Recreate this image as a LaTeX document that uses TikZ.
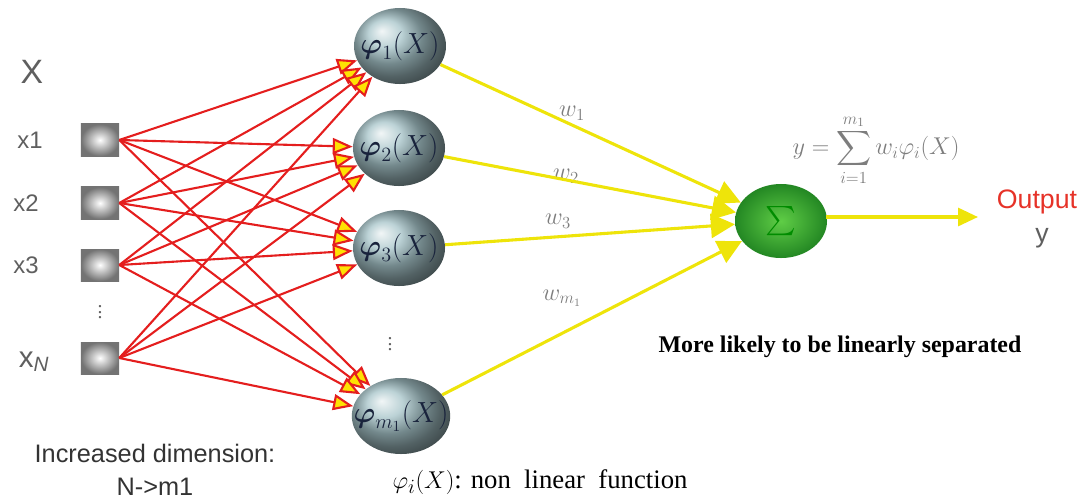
\documentclass[tikz,border=0pt]{standalone}
\usepackage{amsmath}
\usepackage{fontspec}
\setmainfont{Liberation Serif}
\setsansfont{Liberation Sans}
\usepackage{tikz}
\usetikzlibrary{arrows.meta, positioning, shapes.geometric}

\definecolor{hidgray}{RGB}{165,195,200}
\definecolor{suminner}{RGB}{95,205,70}
\definecolor{sumouter}{RGB}{35,135,35}
\definecolor{linkred}{RGB}{228,30,30}
\definecolor{linkyellow}{RGB}{238,228,10}
\definecolor{labelgray}{RGB}{95,95,95}
\definecolor{formgray}{RGB}{125,125,125}
\definecolor{outred}{RGB}{230,50,40}
\definecolor{phinavy}{RGB}{25,35,60}

\begin{document}
\begin{tikzpicture}[
    x=0.025cm, y=-0.025cm,
    inbox/.style={
        rectangle,
        minimum width=0.95cm,
        minimum height=0.8cm,
        inner color=white,
        outer color=black!55
    },
    hidden/.style={
        ellipse,
        minimum width=2.3cm,
        minimum height=1.9cm,
        inner sep=-9pt,
        ball color=hidgray,
        text=phinavy,
        font=\fontsize{21}{24}\selectfont
    },
    sumnode/.style={
        ellipse,
        minimum width=2.3cm,
        minimum height=1.85cm,
        inner sep=0pt,
        inner color=suminner,
        outer color=sumouter,
        text=black!45!green,
        font=\fontsize{22}{26}\selectfont
    },
    inlabel/.style={
        text=labelgray,
        font=\sffamily\fontsize{17}{20}\selectfont
    },
    wlabel/.style={
        text=formgray,
        font=\fontsize{17}{20}\selectfont
    },
    redarrow/.style={
        -{Triangle[length=0.5cm, width=0.4cm, fill=yellow!85!orange]},
        draw=linkred,
        line width=1.5pt
    },
    yellowarrow/.style={
        -{Triangle[length=0.6cm, width=0.6cm]},
        draw=linkyellow,
        line width=2.2pt
    }
]
\useasboundingbox (0,0) rectangle (1089,500);

% === Input Layer ===
\node[text=labelgray, font=\sffamily\fontsize{24}{28}\selectfont] (xlab) at (32,72) {X};
\node[inbox] (x1) at (100,140) {};
\node[inbox] (x2) at (100,203) {};
\node[inbox] (x3) at (100,265) {};
\node[inbox] (xN) at (100,358) {};
\node[inlabel] (x1lab) at (30,140) {x1};
\node[inlabel] (x2lab) at (26,203) {x2};
\node[inlabel] (x3lab) at (26,265) {x3};
\node[inlabel, font=\sffamily\fontsize{21}{24}\selectfont] (xNlab) at (34,362) {x\textsubscript{\itshape N}};
\node[text=labelgray, font=\fontsize{14}{16}\selectfont] (xdots) at (100,308) {$\vdots$};

% === Hidden Layer ===
\node[hidden] (phi1) at (400,46) {$\boldsymbol{\varphi}_{1}(X)$};
\node[hidden] (phi2) at (399,148) {$\boldsymbol{\varphi}_{2}(X)$};
\node[hidden] (phi3) at (399,248) {$\boldsymbol{\varphi}_{3}(X)$};
\node[hidden] (phim) at (401,416) {$\boldsymbol{\varphi}_{m_1}(X)$};
\node[text=labelgray, font=\fontsize{14}{16}\selectfont] (phidots) at (390,340) {$\vdots$};

% === Output Layer ===
\node[sumnode] (sum) at (781,221) {$\sum$};
\coordinate (outstart) at (826,217);
\coordinate (outend) at (978,217);
\node[text=outred, font=\sffamily\fontsize{19}{22}\selectfont] (outlab) at (1037,202) {Output};
\node[text=labelgray, font=\sffamily\fontsize{19}{22}\selectfont] (ylab) at (1042,238) {y};
\node[text=formgray, font=\fontsize{18}{21}\selectfont] (formula) at (876,150) {$y=\displaystyle\sum_{i=1}^{m_1} w_i\varphi_i(X)$};

% === Weights ===
\node[wlabel] (w1) at (572,113) {$w_1$};
\node[wlabel] (w2) at (566,176) {$w_2$};
\node[wlabel] (w3) at (558,221) {$w_3$};
\node[wlabel] (wm) at (562,298) {$w_{m_1}$};

% === Captions ===
\node[text=black!80, font=\sffamily\fontsize{18}{21}\selectfont] (incr) at (155,453) {Increased dimension:};
\node[text=black!80, font=\sffamily\fontsize{18}{21}\selectfont, below=0.15cm of incr] (nm) {N->m1};
\node[font=\bfseries\fontsize{17}{20}\selectfont] (sep) at (840,347) {More likely to be linearly separated};
\node[font=\fontsize{19}{22}\selectfont] (nonlin) at (540,482) {$\varphi_i(X)$: non~ linear~ function};

% === Arrows ===
\draw[redarrow] (x1.east) -- (phi1);
\draw[redarrow] (x1.east) -- (phi2);
\draw[redarrow] (x1.east) -- (phi3);
\draw[redarrow] (x1.east) -- (phim);
\draw[redarrow] (x2.east) -- (phi1);
\draw[redarrow] (x2.east) -- (phi2);
\draw[redarrow] (x2.east) -- (phi3);
\draw[redarrow] (x2.east) -- (phim);
\draw[redarrow] (x3.east) -- (phi1);
\draw[redarrow] (x3.east) -- (phi2);
\draw[redarrow] (x3.east) -- (phi3);
\draw[redarrow] (x3.east) -- (phim);
\draw[redarrow] (xN.east) -- (phi1);
\draw[redarrow] (xN.east) -- (phi2);
\draw[redarrow] (xN.east) -- (phi3);
\draw[redarrow] (xN.east) -- (phim);
\draw[yellowarrow] (phi1) -- (sum);
\draw[yellowarrow] (phi2) -- (sum);
\draw[yellowarrow] (phi3) -- (sum);
\draw[yellowarrow] (phim) -- (sum);
\draw[yellowarrow, -{Triangle[length=0.5cm, width=0.45cm]}] (outstart) -- (outend);
\end{tikzpicture}
\end{document}
